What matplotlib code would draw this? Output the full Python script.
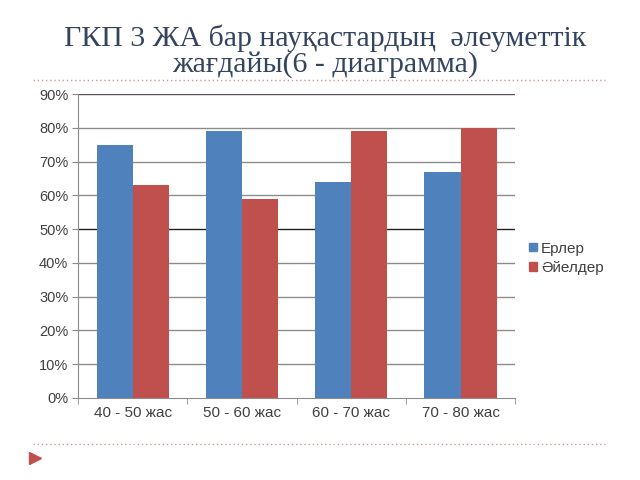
import numpy as np
import matplotlib
matplotlib.use("Agg")
import matplotlib.pyplot as plt
from matplotlib.lines import Line2D
from matplotlib.patches import Patch

# Деректер
categories = ["40 - 50 жас", "50 - 60 жас", "60 - 70 жас", "70 - 80 жас"]
erler = [75, 79, 64, 67]
aielder = [63, 59, 79, 80]
series_names = ["Ерлер", "Әйелдер"]
yticks = [0, 10, 20, 30, 40, 50, 60, 70, 80, 90]

blue = "#4F81BD"
red = "#C0504D"

fig = plt.figure(figsize=(6.4, 4.8), dpi=100)
fig.patch.set_facecolor("white")

# Тақырып
fig.text(0.508, 0.894, "ГКП 3 ЖА бар науқастардың  әлеуметтік\nжағдайы(6 - диаграмма)",
         ha="center", va="center", fontsize=21.5, family="Liberation Serif",
         color="#34435E", linespacing=0.95)

# Нүктелі сызықтар
for yy in [0.833, 0.075]:
    fig.add_artist(Line2D([0.052, 0.945], [yy, yy], color="#D99594",
                          lw=1, ls=(0, (1, 2)), transform=fig.transFigure))
fig.add_artist(Line2D([0.055], [0.046], marker=">", color=red, markersize=8,
                      transform=fig.transFigure))

ax = fig.add_axes([0.122, 0.171, 0.683, 0.633])
x = np.arange(len(categories))
w = 0.33
ax.bar(x - w / 2, erler, w, color=blue, zorder=3)
ax.bar(x + w / 2, aielder, w, color=red, zorder=3)

ax.set_xlim(-0.5, len(categories) - 0.5)
ax.set_ylim(0, 90)
ax.set_yticks(yticks)
ax.set_yticklabels([f"{v}%" for v in yticks])
for v in yticks[1:]:
    c = "#222222" if v == 50 else ("#555555" if v == 90 else "#8C8C8C")
    ax.axhline(v, color=c, lw=1, zorder=1)

ax.set_xticks(x)
ax.set_xticklabels(categories)
ax.set_xticks(np.arange(-0.5, len(categories)), minor=True)
ax.tick_params(axis="x", which="major", length=0, pad=6)
ax.tick_params(axis="x", which="minor", length=4, color="#8C8C8C")
ax.tick_params(axis="y", length=4, color="#8C8C8C", pad=3)
for lab in ax.get_xticklabels():
    lab.set_fontfamily("Liberation Sans")
    lab.set_fontsize(11)
    lab.set_color("#404040")
for lab in ax.get_yticklabels():
    lab.set_fontfamily("Liberation Sans")
    lab.set_fontsize(10.5)
    lab.set_color("#404040")

for s in ["top", "right"]:
    ax.spines[s].set_visible(False)
ax.spines["left"].set_color("#8C8C8C")
ax.spines["bottom"].set_color("#8C8C8C")

handles = [Patch(color=blue), Patch(color=red)]
leg = fig.legend(handles, series_names, loc="center left", bbox_to_anchor=(0.805, 0.462),
                 frameon=False, handlelength=0.5, handleheight=0.5, handletextpad=0.3,
                 labelspacing=0.35, prop={"family": "Liberation Sans", "size": 11})
for t in leg.get_texts():
    t.set_color("#404040")

fig.savefig("out.png", dpi=100)
